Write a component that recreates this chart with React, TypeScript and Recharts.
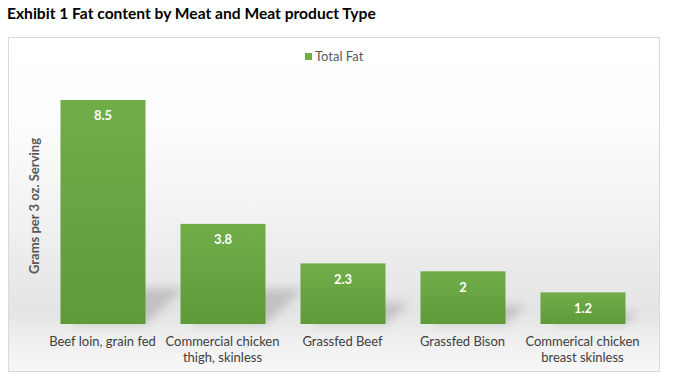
import React from "react";
import { BarChart, Bar, XAxis, YAxis, LabelList } from "recharts";

const categories = [
  "Beef loin, grain fed",
  "Commercial chicken thigh, skinless",
  "Grassfed Beef",
  "Grassfed Bison",
  "Commerical chicken breast skinless",
];
const totalFat = [8.5, 3.8, 2.3, 2, 1.2];
const seriesName = "Total Fat";
const title = "Exhibit 1 Fat content by Meat and Meat product Type";
const yLabel = "Grams per 3 oz. Serving";

const data = categories.map((c, i) => ({ name: c, value: totalFat[i] }));

const FONT = "Lato, 'Open Sans', sans-serif";

const wrap = (s: string, max: number) => {
  const words = s.split(" ");
  const lines: string[] = [];
  let cur = "";
  for (const w of words) {
    const next = cur ? cur + " " + w : w;
    if (next.length > max && cur) {
      lines.push(cur);
      cur = w;
    } else cur = next;
  }
  if (cur) lines.push(cur);
  return lines;
};

const BarShape = (props: any) => {
  const { x, y, width, height } = props;
  const dy = Math.min(height * 0.35, 36);
  const dx = dy * 1.1;
  const by = y + height;
  return (
    <g>
      <polygon
        points={`${x + 10},${by} ${x + width},${by} ${x + width + dx},${by - dy} ${x + 10 + dx},${by - dy}`}
        fill="#8c8c8c"
        opacity={0.4}
        filter="url(#shadowBlur)"
      />
      <rect x={x} y={y} width={width} height={height} fill="url(#barGrad)" />
    </g>
  );
};

const Tick = (props: any) => {
  const { x, y, payload } = props;
  const lines = wrap(String(payload.value), 20);
  return (
    <text
      x={x}
      y={y + 14}
      textAnchor="middle"
      fill="#404040"
      fontSize={13}
      fontFamily={FONT}
    >
      {lines.map((l, i) => (
        <tspan key={i} x={x} dy={i === 0 ? 0 : 16}>
          {l}
        </tspan>
      ))}
    </text>
  );
};

export default function App() {
  return (
    <div
      style={{
        position: "absolute",
        left: 0,
        top: 0,
        width: 679,
        height: 387,
        background: "#ffffff",
        fontFamily: FONT,
      }}
    >
      <div
        style={{
          position: "absolute",
          left: 7,
          top: 4,
          fontSize: 15.6,
          fontWeight: 700,
          color: "#000",
          whiteSpace: "nowrap",
        }}
      >
        {title}
      </div>
      <div
        style={{
          position: "absolute",
          left: 8,
          top: 37,
          width: 652,
          height: 335,
          boxSizing: "border-box",
          border: "1px solid #d9d9d9",
          background:
            "linear-gradient(to bottom, #ffffff 0%, #fdfdfd 25%, #f1f1f1 55%, #e4e4e4 82%, #ececec 88%, #f8f8f8 100%)",
        }}
      />
      <div style={{ position: "absolute", left: 8, top: 37 }}>
        <BarChart
          width={652}
          height={335}
          data={data}
          margin={{ top: 23.5, right: 17.5, bottom: 0, left: 34.5 }}
          barSize={85}
        >
          <defs>
            <linearGradient id="barGrad" x1="0" y1="0" x2="0" y2="1">
              <stop offset="0%" stopColor="#71ad47" />
              <stop offset="100%" stopColor="#5e9a3a" />
            </linearGradient>
            <filter id="shadowBlur" x="-50%" y="-50%" width="200%" height="200%">
              <feGaussianBlur stdDeviation="5" />
            </filter>
          </defs>
          <XAxis
            dataKey="name"
            axisLine={false}
            tickLine={false}
            height={48}
            interval={0}
            tick={<Tick />}
          />
          <YAxis hide domain={[0, 10]} />
          <Bar
            dataKey="value"
            name={seriesName}
            shape={<BarShape />}
            isAnimationActive={false}
          >
            <LabelList
              dataKey="value"
              position="insideTop"
              offset={11}
              fill="#ffffff"
              fontWeight={700}
              fontSize={13}
              fontFamily={FONT}
            />
          </Bar>
        </BarChart>
      </div>
      <div
        style={{
          position: "absolute",
          left: 305,
          top: 48,
          display: "flex",
          alignItems: "center",
          fontSize: 13,
          color: "#595959",
        }}
      >
        <span
          style={{
            display: "inline-block",
            width: 7,
            height: 7,
            background: "#70ad47",
            marginRight: 3,
          }}
        />
        {seriesName}
      </div>
      <div
        style={{
          position: "absolute",
          left: 34,
          top: 206,
          transform: "translate(-50%, -50%) rotate(-90deg)",
          fontSize: 13,
          fontWeight: 700,
          color: "#595959",
          whiteSpace: "nowrap",
        }}
      >
        {yLabel}
      </div>
    </div>
  );
}
